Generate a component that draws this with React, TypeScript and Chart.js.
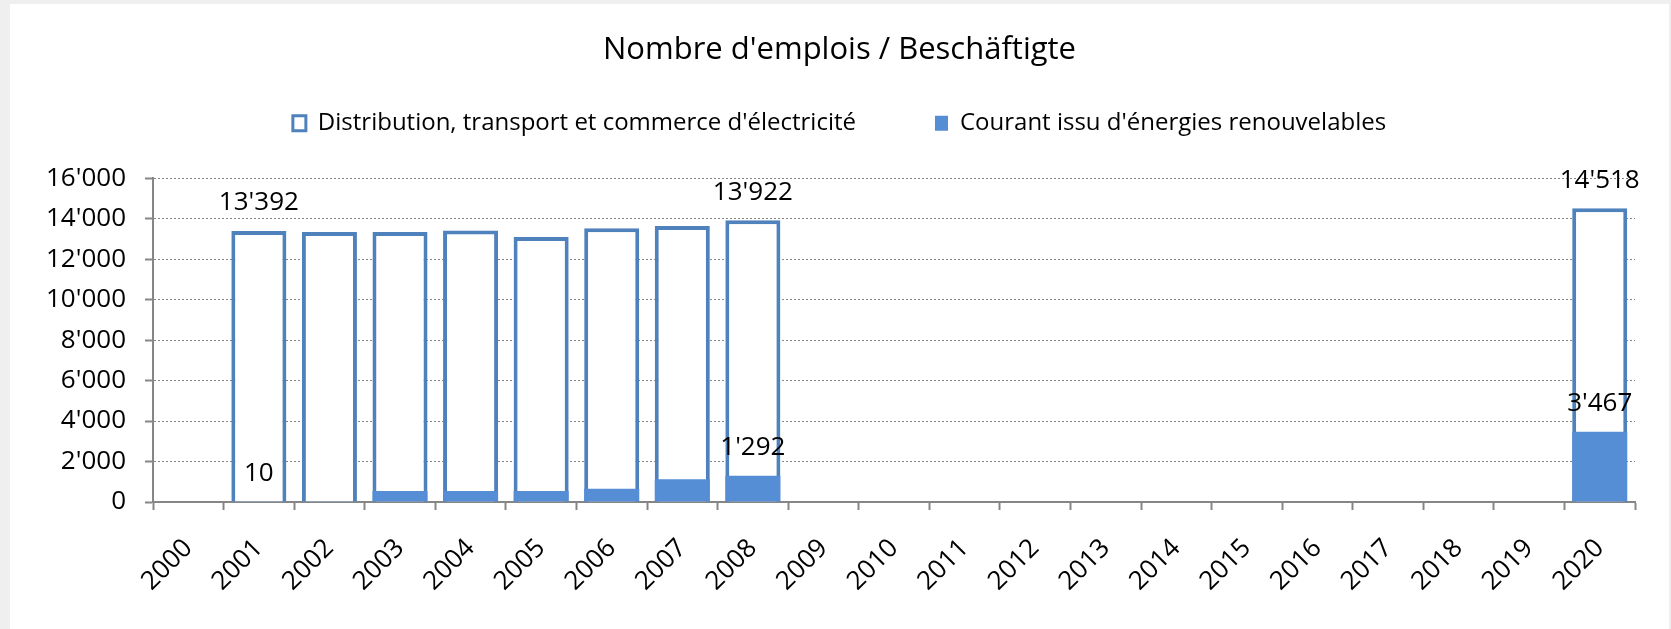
import React, { useEffect, useRef } from 'react';
import { Chart, registerables } from 'chart.js';

Chart.register(...registerables);

const years = ['2000', '2001', '2002', '2003', '2004', '2005', '2006', '2007', '2008', '2009', '2010',
  '2011', '2012', '2013', '2014', '2015', '2016', '2017', '2018', '2019', '2020'];

const distribution = [null, 13392, 13340, 13340, 13420, 13090, 13525, 13640, 13922,
  null, null, null, null, null, null, null, null, null, null, null, 14518];

const renewable = [null, 10, 15, 540, 540, 540, 660, 1130, 1292,
  null, null, null, null, null, null, null, null, null, null, null, 3467];

const labeledYears = ['2001', '2008', '2020'];

const seriesNames = ['Distribution, transport et commerce d\'électricité', 'Courant issu d\'énergies renouvelables'];
const titleText = 'Nombre d\'emplois / Beschäftigte';

const FONT = "'Open Sans', 'Noto Sans', sans-serif";
const BLUE_BORDER = '#4F81BD';
const BLUE_FILL = '#558ED5';
const AXIS_GRAY = '#868686';
const LEGEND_EXTRA_SPACE = 33;

const fmt = (v: number) => String(Math.round(v)).replace(/\B(?=(\d{3})+(?!\d))/g, "'");

const valueLabels = {
  id: 'valueLabels',
  afterDatasetsDraw(chart: any) {
    const ctx = chart.ctx;
    ctx.save();
    ctx.font = `26px ${FONT}`;
    ctx.fillStyle = '#000';
    ctx.textAlign = 'center';
    ctx.textBaseline = 'middle';
    chart.data.datasets.forEach((ds: any, di: number) => {
      const meta = chart.getDatasetMeta(di);
      meta.data.forEach((bar: any, i: number) => {
        const v = ds.data[i];
        if (v == null || !labeledYears.includes(years[i])) return;
        ctx.fillText(fmt(v), bar.x, bar.y - 28);
      });
    });
    ctx.restore();
  },
};

// adds blank space below the legend row
const legendSpacer = {
  id: 'legendSpacer',
  beforeUpdate(chart: any) {
    const lg = chart.legend;
    if (lg && !lg.__spaced) {
      const orig = lg.fit.bind(lg);
      lg.fit = function () {
        orig();
        this.height += LEGEND_EXTRA_SPACE;
      };
      lg.__spaced = true;
    }
  },
};

export default function App() {
  const ref = useRef<HTMLCanvasElement>(null);

  useEffect(() => {
    if (!ref.current) return;
    const chart = new Chart(ref.current, {
      type: 'bar',
      data: {
        labels: years,
        datasets: [
          {
            label: seriesNames[0],
            data: distribution,
            backgroundColor: '#FFFFFF',
            borderColor: BLUE_BORDER,
            borderWidth: 4,
            order: 1,
            grouped: false,
            barPercentage: 0.78,
            categoryPercentage: 1,
          } as any,
          {
            label: seriesNames[1],
            data: renewable,
            backgroundColor: BLUE_FILL,
            borderWidth: 0,
            order: 0,
            grouped: false,
            barPercentage: 0.78,
            categoryPercentage: 1,
          } as any,
        ],
      },
      options: {
        responsive: false,
        animation: false,
        layout: { padding: 0 },
        plugins: {
          title: {
            display: true,
            text: titleText,
            color: '#000',
            font: { family: FONT, size: 31, weight: 'normal' },
            padding: { top: 28, bottom: -37 },
          },
          legend: {
            display: true,
            position: 'top',
            labels: {
              color: '#000',
              font: { family: FONT, size: 24 },
              boxWidth: 13,
              boxHeight: 15,
              padding: 79,
              sort: (a: any, b: any) => a.datasetIndex - b.datasetIndex,
              generateLabels: (chart: any) =>
                chart.data.datasets.map((ds: any, i: number) => ({
                  text: ds.label,
                  fillStyle: i === 0 ? '#FFFFFF' : BLUE_FILL,
                  strokeStyle: i === 0 ? BLUE_BORDER : BLUE_FILL,
                  lineWidth: i === 0 ? 3 : 0,
                  fontColor: '#000',
                  hidden: false,
                  datasetIndex: i,
                })),
            },
          },
          tooltip: { enabled: false },
        },
        scales: {
          x: {
            offset: true,
            grid: {
              display: true,
              drawOnChartArea: false,
              drawTicks: true,
              tickLength: 8,
              tickColor: AXIS_GRAY,
              tickWidth: 2,
              offset: true,
            },
            border: { display: true, color: AXIS_GRAY, width: 2 },
            ticks: {
              autoSkip: false,
              maxRotation: 45,
              minRotation: 45,
              padding: 23,
              color: '#000',
              font: { family: FONT, size: 26 },
            },
            afterFit: (s: any) => { s.height = 127; },
          },
          y: {
            min: 0,
            max: 16000,
            grid: {
              color: AXIS_GRAY,
              lineWidth: 1,
              tickLength: 8,
              tickColor: AXIS_GRAY,
              tickWidth: 2,
              tickBorderDash: [],
            },
            border: { display: true, color: AXIS_GRAY, width: 2, dash: [2, 2] },
            ticks: {
              stepSize: 2000,
              padding: 19,
              color: '#000',
              font: { family: FONT, size: 26 },
              callback: (v: any) => fmt(Number(v)),
            },
            afterFit: (s: any) => { s.width = 143; },
          },
          rightSpace: {
            type: 'linear',
            position: 'right',
            display: true,
            grid: { display: false, drawTicks: false },
            border: { display: false },
            ticks: { display: false },
            afterFit: (s: any) => { s.width = 34; },
          },
        },
      },
      plugins: [valueLabels, legendSpacer],
    });
    return () => chart.destroy();
  }, []);

  return (
    <div style={{ position: 'fixed', left: 0, top: 0, width: 1671, height: 629, background: '#EFEFEF', overflow: 'hidden' }}>
      <div style={{ position: 'absolute', left: 10, top: 4, width: 1659, height: 625, background: '#FFFFFF' }}>
        <canvas ref={ref} width={1659} height={625} style={{ display: 'block' }} />
      </div>
    </div>
  );
}
